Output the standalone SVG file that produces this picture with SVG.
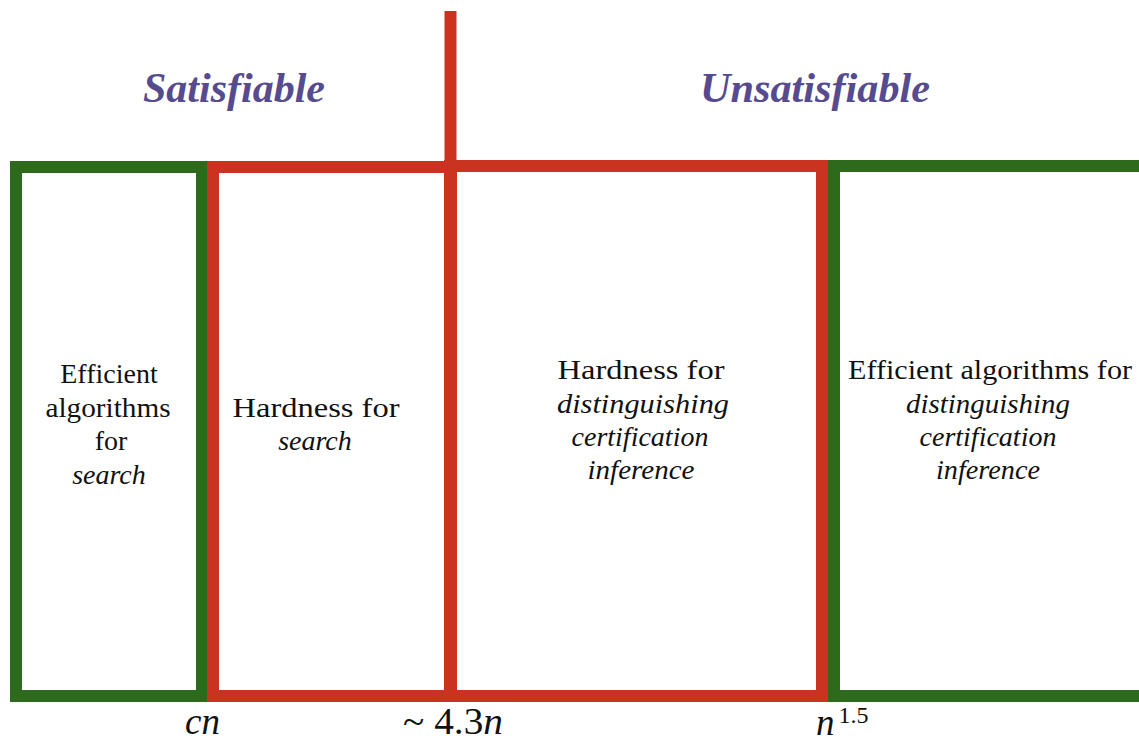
<svg xmlns="http://www.w3.org/2000/svg" width="1139" height="742" viewBox="0 0 1139 742">
<style>
.g{fill:none;stroke:#2e6a1c;stroke-width:12}
.r{fill:none;stroke:#c9331f;stroke-width:12}
.h{font-family:"Liberation Serif",serif;font-weight:bold;font-style:italic;font-size:42px;fill:#574b8f;text-anchor:middle}
.t{font-family:"Liberation Serif",serif;font-size:28px;fill:#111;text-anchor:middle}
.i{font-style:italic}
.m{font-family:"Liberation Serif",serif;font-size:37px;fill:#111}
</style>
<rect width="1139" height="742" fill="#fff"/>
<g id="left-green">
<rect class="g" x="16" y="167" width="186" height="529"/>
<text class="t" x="109" y="383">Efficient</text>
<text class="t" x="108" y="417" textLength="125" lengthAdjust="spacingAndGlyphs">algorithms</text>
<text class="t" x="111" y="450">for</text>
<text class="t i" x="109" y="484">search</text>
</g>
<g id="left-red">
<rect class="r" x="213" y="167" width="238" height="529"/>
<text class="t" x="316" y="417" textLength="167" lengthAdjust="spacingAndGlyphs">Hardness for</text>
<text class="t i" x="315" y="450">search</text>
</g>
<g id="right-red">
<rect class="r" x="450" y="166" width="372" height="530"/>
<text class="t" x="641" y="379" textLength="167" lengthAdjust="spacingAndGlyphs">Hardness for</text>
<text class="t i" x="643" y="413" textLength="172" lengthAdjust="spacingAndGlyphs">distinguishing</text>
<text class="t i" x="640" y="446">certification</text>
<text class="t i" x="641" y="479" textLength="107" lengthAdjust="spacingAndGlyphs">inference</text>
</g>
<g id="right-green">
<rect class="g" x="834" y="166" width="320" height="530"/>
<text class="t" x="990" y="379" textLength="284" lengthAdjust="spacingAndGlyphs">Efficient algorithms for</text>
<text class="t i" x="988" y="413" textLength="164" lengthAdjust="spacingAndGlyphs">distinguishing</text>
<text class="t i" x="988" y="446">certification</text>
<text class="t i" x="988" y="479" textLength="104" lengthAdjust="spacingAndGlyphs">inference</text>
</g>
<g id="connectors">
<line class="r" x1="450.5" y1="11" x2="450.5" y2="172"/>
</g>
<g id="labels">
<text class="h" x="234" y="102" textLength="182" lengthAdjust="spacingAndGlyphs">Satisfiable</text>
<text class="h" x="815" y="102" textLength="230" lengthAdjust="spacingAndGlyphs">Unsatisfiable</text>
<text class="m" x="185" y="734"><tspan font-style="italic">cn</tspan></text>
<text class="m" x="403" y="734" textLength="100" lengthAdjust="spacingAndGlyphs">~ 4.3<tspan font-style="italic">n</tspan></text>
<text class="m" x="816" y="735"><tspan font-style="italic">n</tspan><tspan font-size="24" dx="4" dy="-12">1.5</tspan></text>
</g>
</svg>
